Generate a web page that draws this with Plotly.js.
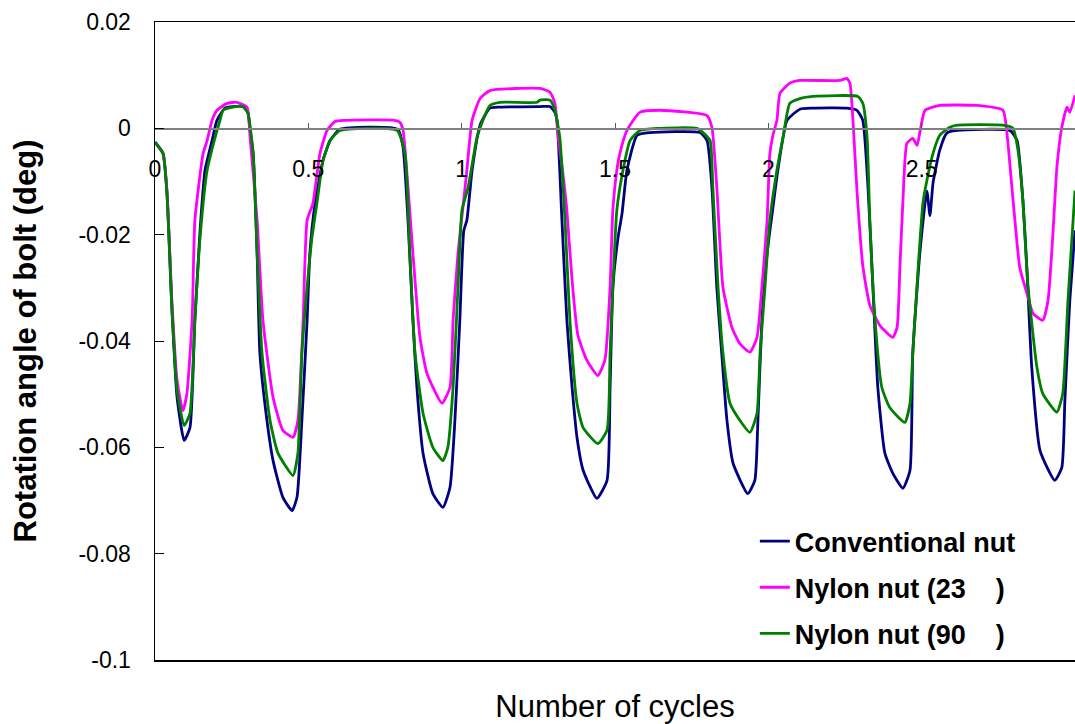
<!DOCTYPE html>
<html>
<head>
<meta charset="utf-8">
<script src="https://cdn.plot.ly/plotly-3.0.1.min.js"></script>
<style>
  html, body { margin: 0; padding: 0; background: #fff; }
  #chart { width: 1075px; height: 724px; }
</style>
</head>
<body>
<div id="chart"></div>
<script>
// Bolt rotation angle over loading cycles for three nut types.

const seriesNames = ['Conventional nut', 'Nylon nut (23\u00a0\u00a0\u00a0\u00a0)', 'Nylon nut (90\u00a0\u00a0\u00a0\u00a0)'];
const seriesColors = ['#000080', '#ff00ff', '#008000'];

const convX = [
  0, 0.026, 0.039, 0.055, 0.072, 0.095, 0.114, 0.130, 0.147, 0.163, 0.186, 0.202,
  0.228, 0.254, 0.287, 0.303, 0.310, 0.320, 0.333, 0.342, 0.365, 0.385, 0.417, 0.447,
  0.463, 0.479, 0.496, 0.505, 0.522, 0.548, 0.571, 0.603, 0.792, 0.809, 0.825, 0.841,
  0.854, 0.874, 0.906, 0.939, 0.962, 0.978, 0.994, 1.007, 1.017, 1.034, 1.060, 1.092,
  1.125, 1.255, 1.288, 1.304, 1.311, 1.327, 1.343, 1.360, 1.376, 1.396, 1.441, 1.474,
  1.484, 1.493, 1.510, 1.523, 1.539, 1.572, 1.614, 1.777, 1.800, 1.816, 1.832, 1.848,
  1.865, 1.885, 1.933, 1.956, 1.966, 1.979, 1.996, 2.015, 2.031, 2.061, 2.103, 2.145,
  2.256, 2.289, 2.308, 2.325, 2.341, 2.357, 2.380, 2.406, 2.439, 2.462, 2.471, 2.494,
  2.517, 2.527, 2.537, 2.559, 2.582, 2.615, 2.788, 2.811, 2.830, 2.843, 2.859, 2.886,
  2.934, 2.957, 2.967, 2.983, 3.0
];
const convY = [
  -0.0026, -0.0047, -0.0122, -0.0337, -0.0506, -0.0587, -0.0563, -0.0361, -0.0192, -0.0079, -0.0023, 0.0015,
  0.0038, 0.0041, 0.0041, 0.0030, -0.0004, -0.0047, -0.0235, -0.0423, -0.0549, -0.0625, -0.0694, -0.0719,
  -0.0694, -0.0549, -0.0361, -0.0235, -0.0141, -0.0060, -0.0023, -0.0002, -0.0002, -0.0036, -0.0173, -0.0361,
  -0.0487, -0.0611, -0.0687, -0.0713, -0.0675, -0.0549, -0.0361, -0.0192, -0.0173, -0.0079, 0.0006, 0.0038,
  0.0040, 0.0041, 0.0041, 0.0030, 0.0015, -0.0173, -0.0361, -0.0487, -0.0581, -0.0643, -0.0696, -0.0662,
  -0.0487, -0.0299, -0.0205, -0.0160, -0.0079, -0.0013, -0.0008, -0.0008, -0.0023, -0.0111, -0.0299, -0.0423,
  -0.0549, -0.0630, -0.0687, -0.0662, -0.0549, -0.0361, -0.0235, -0.0149, -0.0079, 0.0015, 0.0036, 0.0038,
  0.0038, 0.0034, 0.0015, -0.0111, -0.0299, -0.0487, -0.0611, -0.0649, -0.0677, -0.0643, -0.0423, -0.0235,
  -0.0118, -0.0164, -0.0103, -0.0041, -0.0009, -0.0004, -0.0004, -0.0023, -0.0135, -0.0262, -0.0450, -0.0606,
  -0.0662, -0.0638, -0.0512, -0.0324, -0.0192
];

const nylon23X = [
  0, 0.026, 0.039, 0.055, 0.072, 0.091, 0.104, 0.121, 0.130, 0.157, 0.170, 0.186,
  0.202, 0.235, 0.267, 0.300, 0.310, 0.333, 0.352, 0.385, 0.417, 0.450, 0.466, 0.483,
  0.496, 0.515, 0.538, 0.561, 0.587, 0.619, 0.782, 0.799, 0.809, 0.825, 0.841, 0.864,
  0.887, 0.936, 0.962, 0.972, 0.988, 1.004, 1.017, 1.034, 1.060, 1.092, 1.255, 1.288,
  1.304, 1.314, 1.327, 1.343, 1.360, 1.379, 1.408, 1.444, 1.467, 1.484, 1.493, 1.506,
  1.516, 1.539, 1.581, 1.647, 1.800, 1.816, 1.832, 1.852, 1.881, 1.907, 1.940, 1.963,
  1.979, 1.996, 2.005, 2.015, 2.028, 2.038, 2.070, 2.103, 2.234, 2.256, 2.266, 2.276,
  2.289, 2.308, 2.331, 2.364, 2.406, 2.420, 2.429, 2.439, 2.452, 2.471, 2.485, 2.494,
  2.511, 2.559, 2.680, 2.765, 2.778, 2.798, 2.820, 2.843, 2.863, 2.895, 2.912, 2.928,
  2.941, 2.957, 2.974, 2.983, 3.0
];
const nylon23Y = [
  -0.0026, -0.0047, -0.0117, -0.0324, -0.0474, -0.0531, -0.0499, -0.0361, -0.0173, -0.0047, -0.0023, 0.0015,
  0.0034, 0.0047, 0.0049, 0.0040, -0.0017, -0.0173, -0.0361, -0.0506, -0.0568, -0.0581, -0.0549, -0.0361,
  -0.0173, -0.0141, -0.0047, -0.0004, 0.0013, 0.0015, 0.0015, 0.0011, -0.0004, -0.0111, -0.0235, -0.0393,
  -0.0461, -0.0517, -0.0487, -0.0361, -0.0235, -0.0149, -0.0079, 0.0015, 0.0056, 0.0071, 0.0075, 0.0068,
  0.0047, -0.0013, -0.0070, -0.0154, -0.0286, -0.0389, -0.0436, -0.0465, -0.0436, -0.0299, -0.0154, -0.0079,
  -0.0047, -0.0004, 0.0030, 0.0034, 0.0024, 0.0002, -0.0111, -0.0299, -0.0374, -0.0405, -0.0421, -0.0393,
  -0.0299, -0.0173, -0.0047, -0.0013, 0.0015, 0.0066, 0.0085, 0.0090, 0.0090, 0.0094, 0.0085, 0.0015,
  -0.0117, -0.0258, -0.0333, -0.0371, -0.0393, -0.0374, -0.0262, -0.0135, -0.0028, -0.0019, -0.0032, -0.0008,
  0.0034, 0.0043, 0.0043, 0.0034, -0.0009, -0.0135, -0.0262, -0.0310, -0.0348, -0.0361, -0.0324, -0.0198,
  -0.0073, 0.0002, 0.0040, 0.0030, 0.0062
];

const nylon90X = [
  0, 0.026, 0.039, 0.055, 0.072, 0.095, 0.114, 0.130, 0.147, 0.170, 0.196, 0.212,
  0.222, 0.254, 0.287, 0.303, 0.320, 0.333, 0.349, 0.375, 0.401, 0.450, 0.466, 0.479,
  0.496, 0.512, 0.528, 0.548, 0.571, 0.603, 0.789, 0.815, 0.831, 0.848, 0.874, 0.906,
  0.939, 0.955, 0.972, 0.988, 1.001, 1.021, 1.050, 1.069, 1.092, 1.125, 1.246, 1.255,
  1.288, 1.304, 1.320, 1.337, 1.353, 1.376, 1.396, 1.444, 1.474, 1.484, 1.493, 1.506,
  1.526, 1.549, 1.581, 1.637, 1.767, 1.787, 1.810, 1.819, 1.836, 1.852, 1.875, 1.907,
  1.940, 1.963, 1.973, 1.989, 2.005, 2.028, 2.048, 2.070, 2.103, 2.145, 2.292, 2.308,
  2.322, 2.331, 2.348, 2.370, 2.396, 2.445, 2.462, 2.471, 2.488, 2.504, 2.517, 2.537,
  2.559, 2.592, 2.615, 2.765, 2.798, 2.814, 2.830, 2.846, 2.876, 2.895, 2.941, 2.960,
  2.977, 3.0
];
const nylon90Y = [
  -0.0026, -0.0047, -0.0122, -0.0337, -0.0493, -0.0559, -0.0536, -0.0361, -0.0205, -0.0079, -0.0017, 0.0015,
  0.0034, 0.0040, 0.0041, 0.0028, -0.0047, -0.0235, -0.0423, -0.0549, -0.0611, -0.0653, -0.0611, -0.0423,
  -0.0299, -0.0205, -0.0141, -0.0060, -0.0023, -0.0004, -0.0004, -0.0047, -0.0235, -0.0423, -0.0536, -0.0600,
  -0.0625, -0.0600, -0.0487, -0.0299, -0.0154, -0.0111, -0.0017, 0.0015, 0.0043, 0.0049, 0.0049, 0.0053,
  0.0053, 0.0034, -0.0017, -0.0173, -0.0361, -0.0517, -0.0563, -0.0593, -0.0568, -0.0423, -0.0299, -0.0154,
  -0.0079, -0.0023, -0.0004, 0, 0, -0.0008, -0.0023, -0.0111, -0.0299, -0.0423, -0.0517, -0.0549,
  -0.0572, -0.0536, -0.0423, -0.0299, -0.0173, -0.0079, -0.0017, 0.0047, 0.0056, 0.0060, 0.0060, 0.0047,
  -0.0017, -0.0173, -0.0361, -0.0487, -0.0525, -0.0553, -0.0517, -0.0423, -0.0267, -0.0141, -0.0098, -0.0047,
  -0.0013, 0.0002, 0.0006, 0.0006, 0, -0.0041, -0.0135, -0.0292, -0.0450, -0.0499, -0.0534, -0.0499,
  -0.0324, -0.0117
];

// Axis ranges and tick labels
const xRange = [0, 3];
const yRange = [-0.1, 0.02];
const xTickVals = [0, 0.5, 1, 1.5, 2, 2.5, 3];
const xTickText = ['0', '0.5', '1', '1.5', '2', '2.5', '3'];
const yTickVals = [-0.1, -0.08, -0.06, -0.04, -0.02, 0, 0.02];
const yTickText = ['-0.1', '-0.08', '-0.06', '-0.04', '-0.02', '0', '0.02'];

const FONT = 'Liberation Sans, Arial, Helvetica, sans-serif';

const seriesX = [convX, nylon23X, nylon90X];
const seriesY = [convY, nylon23Y, nylon90Y];

const traces = seriesNames.map((name, i) => ({
  type: 'scatter',
  mode: 'lines',
  name: name,
  x: seriesX[i],
  y: seriesY[i],
  legendgroup: 'g' + i,
  line: { color: seriesColors[i], width: 2.8, shape: 'spline', smoothing: 0.5 },
  hoverinfo: 'x+y+name'
}));

// empty trace that ties the zero-line axis (x2) to the plot so it gets drawn
traces.push({
  type: 'scatter', mode: 'lines', x: xRange, y: [null, null],
  xaxis: 'x2', yaxis: 'y', showlegend: false, hoverinfo: 'skip'
});

// the horizontal axis with its labels sits on the zero line
const zeroPos = (0 - yRange[0]) / (yRange[1] - yRange[0]);

const layout = {
  width: 1075,
  height: 724,
  margin: { l: 155, r: 0, t: 22, b: 64 },
  paper_bgcolor: '#ffffff',
  plot_bgcolor: '#ffffff',
  font: { family: FONT, color: '#000' },
  showlegend: true,
  xaxis: {
    range: xRange,
    showline: true, linecolor: '#000', linewidth: 1.5, mirror: true,
    showgrid: false, zeroline: false, ticks: '', showticklabels: false,
    title: { text: 'Number of cycles', font: { family: FONT, size: 31, color: '#000' }, standoff: 38 }
  },
  xaxis2: {
    overlaying: 'x', anchor: 'free', position: zeroPos, side: 'bottom',
    range: xRange,
    tickmode: 'array', tickvals: xTickVals, ticktext: xTickText,
    ticks: 'inside', ticklen: 5, tickwidth: 1, tickcolor: '#555',
    showline: true, linecolor: '#808080', linewidth: 1.5,
    showgrid: false, zeroline: false,
    tickfont: { family: FONT, size: 23, color: '#000' },
    ticklabelstandoff: 20
  },
  yaxis: {
    range: yRange,
    tickmode: 'array', tickvals: yTickVals, ticktext: yTickText,
    ticks: 'inside', ticklen: 9, tickwidth: 1, tickcolor: '#000',
    showline: true, linecolor: '#000', linewidth: 1.5,
    showgrid: false, zeroline: false,
    tickfont: { family: FONT, size: 23, color: '#000' },
    ticklabelstandoff: 18,
    title: { text: 'Rotation angle of bolt (deg)', font: { family: FONT, size: 31, color: '#000', weight: 'bold' }, standoff: 32 }
  },
  legend: {
    x: 0.652, y: 0.224, xanchor: 'left', yanchor: 'top',
    bgcolor: 'rgba(0,0,0,0)', borderwidth: 0,
    traceorder: 'grouped', tracegroupgap: 8,
    font: { family: FONT, size: 27, color: '#000', weight: 'bold' }
  }
};

Plotly.newPlot('chart', traces, layout, { displayModeBar: false, staticPlot: true });
</script>
</body>
</html>
